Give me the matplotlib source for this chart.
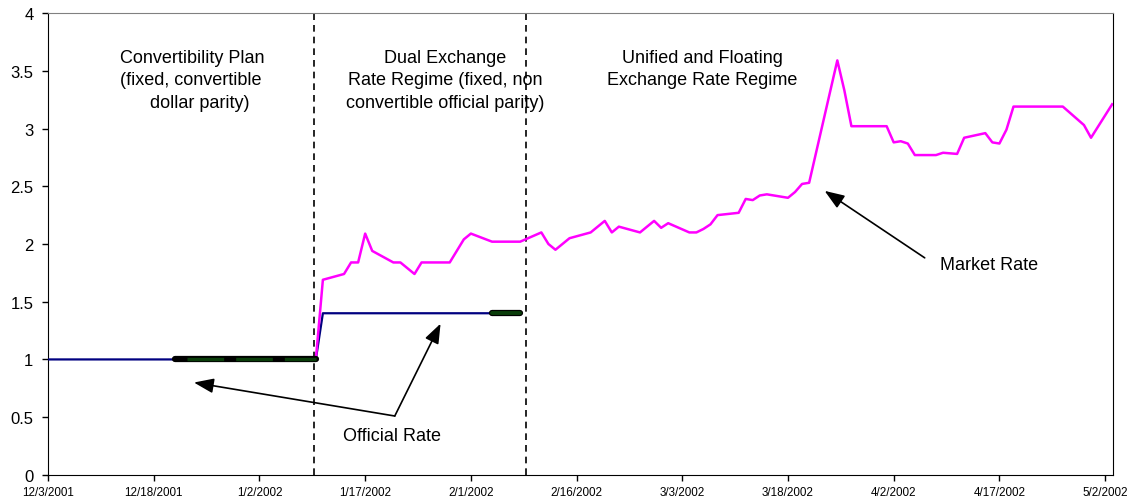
import matplotlib
matplotlib.use("Agg")
import matplotlib.pyplot as plt
import pandas as pd

plt.rcParams['font.family'] = ['Liberation Sans', 'DejaVu Sans']

# market rate (pesos per dollar)
market_dates = ["2002-01-10", "2002-01-11", "2002-01-14", "2002-01-15", "2002-01-16", "2002-01-17",
                "2002-01-18", "2002-01-21", "2002-01-22", "2002-01-24", "2002-01-25", "2002-01-29",
                "2002-01-31", "2002-02-01", "2002-02-04", "2002-02-08", "2002-02-11", "2002-02-12",
                "2002-02-13", "2002-02-15", "2002-02-18", "2002-02-20", "2002-02-21", "2002-02-22",
                "2002-02-25", "2002-02-27", "2002-02-28", "2002-03-01", "2002-03-04", "2002-03-05",
                "2002-03-06", "2002-03-07", "2002-03-08", "2002-03-11", "2002-03-12", "2002-03-13",
                "2002-03-14", "2002-03-15", "2002-03-18", "2002-03-19", "2002-03-20", "2002-03-21",
                "2002-03-25", "2002-03-26", "2002-03-27", "2002-04-01", "2002-04-02", "2002-04-03",
                "2002-04-04", "2002-04-05", "2002-04-08", "2002-04-09", "2002-04-11", "2002-04-12",
                "2002-04-15", "2002-04-16", "2002-04-17", "2002-04-18", "2002-04-19", "2002-04-26",
                "2002-04-29", "2002-04-30", "2002-05-03"]
market_rate = [1.00, 1.69, 1.74, 1.84, 1.84, 2.09,
               1.94, 1.84, 1.84, 1.74, 1.84, 1.84,
               2.04, 2.09, 2.02, 2.02, 2.10, 2.00,
               1.95, 2.05, 2.10, 2.20, 2.10, 2.15,
               2.10, 2.20, 2.14, 2.18, 2.10, 2.10,
               2.13, 2.17, 2.25, 2.27, 2.39, 2.38,
               2.42, 2.43, 2.40, 2.45, 2.52, 2.53,
               3.59, 3.33, 3.02, 3.02, 2.88, 2.89,
               2.87, 2.77, 2.77, 2.79, 2.78, 2.92,
               2.96, 2.88, 2.87, 2.99, 3.19, 3.19,
               3.03, 2.92, 3.21]

# official rate
official_dates = ["2001-12-03", "2002-01-10", "2002-01-11", "2002-02-08"]
official_rate = [1.0, 1.0, 1.4, 1.4]

# highlighted pieces of the official rate
hl1_dates = ["2001-12-21", "2002-01-10"]
hl1_rate = [1.0, 1.0]
hl2_dates = ["2002-02-04", "2002-02-08"]
hl2_rate = [1.4, 1.4]

# regime changes
regime_breaks = ["2002-01-09 17:00", "2002-02-08 19:00"]

tick_labels = ["12/3/2001", "12/18/2001", "1/2/2002", "1/17/2002", "2/1/2002", "2/16/2002",
               "3/3/2002", "3/18/2002", "4/2/2002", "4/17/2002", "5/2/2002"]

md = pd.to_datetime(market_dates)
od = pd.to_datetime(official_dates)

fig = plt.figure(figsize=(11.28, 5.02), dpi=100)
ax = fig.add_axes([0.0426, 0.052, 0.944, 0.92])

ax.plot(od, official_rate, color='#000080', lw=1.6, zorder=3)
ax.plot(pd.to_datetime(hl1_dates), hl1_rate, color='black', lw=4.5, solid_capstyle='round', zorder=4)
ax.plot(pd.to_datetime(hl1_dates), hl1_rate, color='#0a3d0a', lw=2.4, linestyle=(11, (11, 3.6)),
        dash_capstyle='butt', zorder=5)
ax.plot(pd.to_datetime(hl2_dates), hl2_rate, color='black', lw=4.5, solid_capstyle='round', zorder=4)
ax.plot(pd.to_datetime(hl2_dates), hl2_rate, color='#0a3d0a', lw=2.8, solid_capstyle='round', zorder=5)
ax.plot(md, market_rate, color='#ff00ff', lw=1.8, zorder=3)

for b in regime_breaks:
    ax.axvline(pd.Timestamp(b), color='black', lw=1.2, dashes=(4, 3), zorder=2)

start = pd.Timestamp("2001-12-03")
ax.set_xlim(start, pd.Timestamp("2002-05-03 02:30"))
ax.set_ylim(0, 4)
ticks = [pd.to_datetime(t, format="%m/%d/%Y") for t in tick_labels]
ax.set_xticks(ticks)
ax.set_xticklabels(tick_labels, fontsize=8.4)
ax.set_yticks([0, 0.5, 1, 1.5, 2, 2.5, 3, 3.5, 4])
ax.set_yticklabels(["0", "0.5", "1", "1.5", "2", "2.5", "3", "3.5", "4"], fontsize=12)
ax.tick_params(direction='out', length=4.5, width=1)
ax.tick_params(axis='y', pad=6)
ax.spines['top'].set_color('#808080')
for s in ['left', 'bottom', 'right']:
    ax.spines[s].set_color('black')

ax.text(pd.Timestamp("2001-12-13 06:00"), 3.69, "Convertibility Plan\n(fixed, convertible\n      dollar parity)",
        fontsize=13, ha='left', va='top', linespacing=1.42)
ax.text(start + pd.Timedelta(days=56.4), 3.69, "Dual Exchange\nRate Regime (fixed, non\nconvertible official parity)",
        fontsize=13, ha='center', va='top', linespacing=1.42)
ax.text(start + pd.Timedelta(days=92.8), 3.69, "Unified and Floating\nExchange Rate Regime",
        fontsize=13, ha='center', va='top', linespacing=1.42)

arrow = dict(arrowstyle='-|>,head_length=1.2,head_width=0.45', color='black', lw=1.2, shrinkA=0, shrinkB=0)
vertex = (start + pd.Timedelta(days=49.2), 0.51)
ax.annotate("", xy=(start + pd.Timedelta(days=20.7), 0.80), xytext=vertex, arrowprops=arrow)
ax.annotate("", xy=(start + pd.Timedelta(days=55.7), 1.31), xytext=vertex, arrowprops=arrow)
ax.text(start + pd.Timedelta(days=48.8), 0.34, "Official Rate", fontsize=13, ha='center', va='center')

ax.annotate("", xy=(start + pd.Timedelta(days=110.2), 2.46), xytext=(start + pd.Timedelta(days=124.4), 1.88),
            arrowprops=arrow)
ax.text(start + pd.Timedelta(days=126.6), 1.82, "Market Rate", fontsize=13, ha='left', va='center')

fig.savefig("out.png", dpi=100)
